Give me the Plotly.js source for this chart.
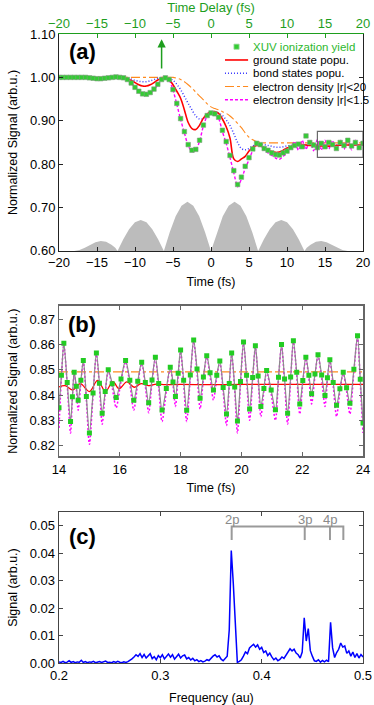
<!DOCTYPE html>
<html>
<head>
<meta charset="utf-8">
<script src="https://cdn.plot.ly/plotly-3.0.1.min.js"></script>
<style>
  html, body { margin: 0; padding: 0; background: #fff; }
  #chart { width: 374px; height: 705px; }
</style>
</head>
<body>
<div id="chart"></div>
<script>
var FONT = 'Liberation Sans, Arial, sans-serif';
var GREEN = '#1e9e1e';

// ---------- panel (a): whole pulse, -20 .. 20 fs, one sample every 0.5 fs ----------
var aT = [];
for (var i = 0; i <= 80; i++) { aT.push(-20 + 0.5 * i); }
var aTicks = [-20, -15, -10, -5, 0, 5, 10, 15, 20];

// XUV ionization yield (green squares)
var aYield = [1.000,1.000,1.000,1.000,1.000,1.000,1.000,1.000,
	.999,.998,.997,.997,.998,.999,1.000,1.001,1.000,
	.999,.995,.987,.977,.968,.962,.961,.965,.973,.984,.995,.999,
	.995,.972,.940,.905,.875,.845,.832,.834,.855,.890,.912,.918,
	.916,.908,.878,.852,.820,.785,.753,.770,.795,.815,.835,.848,
	.845,.836,.832,.826,.822,.821,.826,.830,.838,.843,.846,.840,
	.865,.850,.844,.838,.848,.840,.850,.845,.836,.850,.843,.855,
	.842,.850,.838,.848];

// ground state popu.
var aGround = [1.000,1.000,1.000,1.000,1.000,1.000,1.000,1.000,1.000,
	.9995,.999,.999,.9995,1.000,1.000,1.000,1.000,
	.999,.997,.993,.988,.983,.980,.980,.983,.988,.994,.998,.999,
	.995,.983,.968,.952,.925,.896,.882,.880,.890,.906,.916,.920,
	.921,.917,.904,.886,.860,.812,.806,.812,.818,.830,.839,.843,
	.842,.838,.833,.829,.827,.828,.832,.837,.840,.843,.845,.845,
	.844,.843,.844,.843,.842,.8414,.8414,.8425,.8431,.8438,.8441,
	.8442,.8442,.8441,.8442,.8442];

// bond states popu.
var aBond = [1.000,1.000,1.000,1.000,1.000,1.000,1.000,1.000,1.000,
	.9995,.999,.999,.9995,1.000,1.000,1.000,
	1.000,.9995,.998,.996,.993,.991,.990,.990,.992,.995,.998,1.000,1.000,
	.998,.993,.984,.972,.956,.940,.925,.911,.904,.905,.912,.918,
	.920,.918,.912,.902,.889,.870,.850,.836,.833,.836,.842,.845,
	.846,.845,.843,.841,.839,.839,.840,.842,.843,.844,
	.8442,.8445,.8442,.8440,.8443,.8442,.8441,.8443,.8442,.8442,.8441,.8442,
	.8443,.8442,.8442,.8441,.8442,.8442];

// electron density |r|<20
var aDens20 = [1,1,1,1,1,1,1,1,1,1,1,1,1,1,1,1,1,1,1,1,1,1,1,1,1,1,1,1,1,1,1,
	.998,.995,.990,.983,.975,.966,.957,.948,.939,.932,.928,.925,.921,.917,.911,
	.903,.894,.884,.872,.862,.856,.852,.850,.849,
	.849,.849,.849,.849,.849,.849,.849,.849,.849,.849,.849,.849,.849,
	.849,.849,.849,.849,.849,.849,.849,.849,.849,.849,.849,.849,.849];

// electron density |r|<1.5
var aDens15 = [1.000,1.000,1.000,1.000,1.000,1.000,1.000,1.000,
	.999,.998,.997,.997,.998,.999,1.000,1.000,1.000,
	.999,.995,.987,.977,.967,.961,.960,.964,.972,.983,.995,.999,
	.994,.971,.938,.903,.872,.842,.829,.832,.853,.888,.911,.917,
	.915,.906,.875,.848,.815,.780,.748,.765,.790,.810,.832,.846,
	.842,.832,.826,.820,.814,.811,.818,.826,.836,.852,.832,.855,
	.834,.856,.831,.857,.832,.855,.835,.854,.833,.856,.834,.858,
	.833,.855,.832,.857];

// XUV pulse (grey humps)
var pulseT = [-18,-17.3,-16.6,-15.9,-15.2,-14.5,-13.8,-13.1,-12.6,-12.3,
	-11.54,-10.78,-10.01,-9.25,-8.49,-7.73,-6.96,-6.2,
	-5.43,-4.65,-3.88,-3.1,-2.33,-1.55,-0.78,0,
	0.78,1.55,2.33,3.1,3.88,4.65,5.43,6.2,
	6.96,7.73,8.49,9.25,10.01,10.78,11.54,12.3,
	12.6,13.1,13.8,14.5,15.2,15.9,16.6,17.3,18];
var pulseV = [.600,.602,.607,.614,.620,.623,.621,.614,.607,.600,
	.627,.650,.666,.671,.666,.650,.627,.600,
	.643,.680,.704,.713,.704,.680,.643,.600,
	.643,.680,.704,.713,.704,.680,.643,.600,
	.627,.650,.666,.671,.666,.650,.627,.600,
	.607,.614,.621,.623,.620,.614,.607,.602,.600];

var arrowT = -6.5;     // green arrow in (a)

// ---------- panel (b): zoom 14 .. 24 fs ----------
var bRange = [14, 24];
var bYRange = [0.8157, 0.8753];
var bT = [14.00,14.08,14.16,14.27,14.38,14.44,14.50,14.57,14.63,14.72,14.80,14.90,
	15.00,15.12,15.23,15.33,15.42,15.52,15.62,15.75,15.88,16.04,16.19,16.33,
	16.46,16.59,16.72,16.84,16.95,17.06,17.17,17.28,17.39,17.53,17.66,17.75,
	17.83,17.92,18.00,18.10,18.20,18.32,18.43,18.54,18.64,18.75,18.86,18.97,
	19.08,19.19,19.29,19.40,19.51,19.60,19.68,19.78,19.87,19.97,20.07,20.17,
	20.27,20.37,20.46,20.55,20.64,20.74,20.83,20.98,21.12,21.22,21.32,21.42,
	21.52,21.62,21.71,21.82,21.92,22.02,22.12,22.22,22.31,22.42,22.52,22.64,
	22.75,22.83,22.91,23.02,23.13,23.24,23.35,23.46,23.57,23.70,23.82,23.91,24.00];
var bYield = [.8350,.8478,.8605,.8450,.8295,.8393,.8490,.8435,.8380,.8459,.8537,.8394,
	.8250,.8408,.8566,.8447,.8328,.8414,.8500,.8445,.8390,.8464,.8537,.8459,
	.8380,.8455,.8530,.8450,.8370,.8460,.8550,.8446,.8341,.8426,.8510,.8452,
	.8394,.8486,.8578,.8459,.8340,.8479,.8618,.8503,.8387,.8472,.8556,.8488,
	.8420,.8478,.8535,.8430,.8325,.8446,.8566,.8432,.8297,.8454,.8610,.8478,
	.8345,.8470,.8595,.8475,.8355,.8426,.8497,.8420,.8342,.8471,.8600,.8464,
	.8328,.8472,.8615,.8490,.8365,.8458,.8550,.8478,.8405,.8483,.8560,.8479,
	.8398,.8469,.8540,.8450,.8360,.8425,.8490,.8429,.8368,.8502,.8635,.8463,.8290];
var bDens15 = [.8270,.8470,.8600,.8440,.8250,.8385,.8485,.8425,.8340,.8450,.8532,.8380,
	.8205,.8400,.8560,.8435,.8285,.8405,.8495,.8430,.8350,.8455,.8532,.8445,
	.8340,.8445,.8525,.8435,.8330,.8450,.8545,.8430,.8295,.8415,.8505,.8440,
	.8355,.8478,.8572,.8445,.8295,.8470,.8612,.8490,.8345,.8462,.8550,.8475,
	.8380,.8470,.8530,.8415,.8280,.8435,.8560,.8418,.8250,.8445,.8604,.8465,
	.8300,.8460,.8590,.8462,.8315,.8415,.8492,.8405,.8300,.8460,.8595,.8450,
	.8285,.8460,.8610,.8478,.8325,.8448,.8545,.8465,.8365,.8475,.8555,.8465,
	.8355,.8460,.8535,.8435,.8315,.8415,.8485,.8415,.8325,.8492,.8630,.8448,.8250];
var bGroundT = [14.0,14.2,14.45,14.7,15.0,15.27,15.53,15.77,15.98,16.23,16.47,16.7,
	16.95,17.2,17.5,18,19,20,21,22,23,24];
var bGround = [.8432,.8437,.8420,.8445,.8414,.8458,.8414,.8453,.8425,.8452,.8431,.8445,
	.8437,.8443,.8441,.8442,.8441,.8442,.8442,.8442,.8442,.8442];
var bDens20T = [14, 24];
var bDens20 = [.8492, .8492];

// ---------- panel (c): spectrum, 0.2 .. 0.5 au every 0.002 au ----------
var cFreq = [];
for (var j = 0; j <= 150; j++) { cFreq.push(+(0.2 + 0.002 * j).toFixed(3)); }
var cSignal = [
	.0004,.0002,.0006,.0001,.0003,.0008,.0002,.0005,.0001,.0004,.0003,.0010,
	.0002,.0005,.0001,.0004,.0003,.0006,.0001,.0003,.0005,.0002,.0004,.0007,
	.0002,.0003,.0001,.0005,.0002,.0006,.0003,.0001,.0004,.0002,.0005,.0009,
	.0015,.0022,.0030,.0024,.0034,.0020,.0031,.0018,.0026,.0034,.0016,.0023,
	.0012,.0027,.0019,.0030,.0015,.0025,.0033,.0021,.0030,.0014,.0024,.0032,
	.0018,.0026,.0029,.0015,.0020,.0011,.0017,.0008,.0012,.0005,.0009,
	.0004,.0007,.0012,.0009,.0018,.0025,.0030,.0022,.0026,.0014,.0008,.0016,
	.0025,.0120,.0410,.0290,.0120,.0002,
	.0006,.0012,.0025,.0040,.0034,.0055,.0062,.0068,.0058,.0066,.0050,.0057,
	.0038,.0044,.0027,.0036,.0022,.0012,.0018,
	.0008,.0013,.0022,.0017,.0030,.0038,.0052,.0044,.0050,.0036,.0030,.0018,
	.0040,.0165,.0080,.0125,.0045,.0025,.0008,
	.0006,.0012,.0003,.0009,.0004,.0010,
	.0005,.0148,.0055,.0020,
	.0038,.0050,.0073,.0058,.0062,.0035,.0044,.0025,.0040,.0020,.0034,.0018,.0031,.0022];

// 2p / 3p / 4p bracket
var levelFreq = [0.3704, 0.4425, 0.4674, 0.4806];
var levelName = ['2p', '3p', '4p', ''];
var bracketTop = 0.0497, bracketFoot = 0.0448, levelLabelY = 0.0524;

// legend of (a)
var legNames = ['XUV ionization yield', 'ground state popu.', 'bond states popu.',
	'electron density |r|<20', 'electron density |r|<1.5'];

var COL = { ground: '#ff0000', bond: '#3b3bff', d20: '#ff8a1e', d15: '#ff00ff', yield: '#33cc33' };

// ---------- traces ----------
var data = [];

data.push({ x: pulseT, y: pulseV, xaxis: 'x', yaxis: 'y', mode: 'lines', fill: 'tozeroy',
	fillcolor: '#bcbcbc', line: { width: 0 }, hoverinfo: 'skip' });
data.push({ x: aT, y: aDens20, xaxis: 'x', yaxis: 'y', mode: 'lines',
	line: { color: COL.d20, width: 1.1, dash: 'dashdot', shape: 'spline' } });
data.push({ x: aT, y: aBond, xaxis: 'x', yaxis: 'y', mode: 'lines',
	line: { color: COL.bond, width: 1.5, dash: '1px,2px', shape: 'spline' } });
data.push({ x: aT, y: aDens15, xaxis: 'x', yaxis: 'y', mode: 'lines',
	line: { color: COL.d15, width: 1.4, dash: '3px,2px', shape: 'spline', smoothing: 0.6 } });
data.push({ x: aT, y: aGround, xaxis: 'x', yaxis: 'y', mode: 'lines',
	line: { color: COL.ground, width: 1.6, shape: 'spline' } });
data.push({ x: aT, y: aYield, xaxis: 'x', yaxis: 'y', mode: 'markers',
	marker: { symbol: 'square', size: 4.5, color: COL.yield, line: { color: '#7f9f7f', width: 0.6 } } });
// carrier for the green top axis
data.push({ x: aT, y: aDens20, xaxis: 'x4', yaxis: 'y', mode: 'none', hoverinfo: 'skip' });

// panel (b)
data.push({ x: bDens20T, y: bDens20, xaxis: 'x2', yaxis: 'y2', mode: 'lines',
	line: { color: COL.d20, width: 1.3, dash: 'dashdot' } });
data.push({ x: bT, y: bDens15, xaxis: 'x2', yaxis: 'y2', mode: 'lines',
	line: { color: COL.d15, width: 1.5, dash: '2px,2px', shape: 'spline', smoothing: 0.8 } });
data.push({ x: bGroundT, y: bGround, xaxis: 'x2', yaxis: 'y2', mode: 'lines',
	line: { color: COL.ground, width: 1.3, shape: 'spline' } });
data.push({ x: bT, y: bYield, xaxis: 'x2', yaxis: 'y2', mode: 'lines+markers',
	line: { color: '#8c8c8c', width: 1.2, shape: 'spline', smoothing: 0.8 },
	marker: { symbol: 'square', size: 5, color: '#22cc22', line: { width: 0 } } });

// panel (c)
data.push({ x: cFreq, y: cSignal, xaxis: 'x3', yaxis: 'y3', mode: 'lines',
	line: { color: '#0000ff', width: 1.5 } });
var brX = [levelFreq[0], levelFreq[0], levelFreq[3], levelFreq[3], null,
	levelFreq[1], levelFreq[1], null, levelFreq[2], levelFreq[2]];
var brY = [bracketFoot, bracketTop, bracketTop, bracketFoot, null,
	bracketFoot, bracketTop, null, bracketFoot, bracketTop];
data.push({ x: brX, y: brY, xaxis: 'x3', yaxis: 'y3', mode: 'lines',
	line: { color: '#9a9a9a', width: 2 }, connectgaps: false });

// ---------- axes ----------
function axis(o, lineCol, lineW) {
	var a = {
		showgrid: false, zeroline: false, showline: true, linecolor: lineCol, linewidth: lineW,
		ticks: 'inside', ticklen: 4, tickwidth: 1, tickcolor: lineCol, mirror: 'ticks',
		tickfont: { family: FONT, size: 13, color: '#000' }
	};
	for (var k in o) { a[k] = o[k]; }
	return a;
}
function ttl(t, s) { return { text: t, standoff: s, font: { family: FONT, size: 12.5, color: '#000' } }; }

var layout = {
	width: 374, height: 705,
	margin: { l: 59, r: 11, t: 34, b: 42 },
	paper_bgcolor: '#fff', plot_bgcolor: '#fff',
	showlegend: false,
	font: { family: FONT, size: 13, color: '#000' },

	xaxis: axis({ domain: [0, 1], anchor: 'y', range: [-20, 20], tickvals: aTicks, mirror: false,
		title: ttl('Time (fs)', 7) }, '#222', 1),
	yaxis: axis({ domain: [0.6552, 1], anchor: 'x', range: [0.6, 1.1], dtick: 0.1, tickformat: '.2f',
		title: ttl('Normalized Signal (arb.u.)', 9) }, '#222', 1),
	xaxis4: { overlaying: 'x', anchor: 'y', side: 'top', range: [-20, 20], tickvals: aTicks,
		showgrid: false, zeroline: false, showline: true, linecolor: GREEN, linewidth: 1.3,
		ticks: 'inside', ticklen: 4, tickcolor: GREEN,
		tickfont: { family: FONT, size: 13, color: GREEN },
		title: { text: 'Time Delay (fs)', font: { family: FONT, size: 13, color: GREEN }, standoff: 2 } },

	xaxis2: axis({ domain: [0, 1], anchor: 'y2', range: bRange, dtick: 2,
		title: ttl('Time (fs)', 7) }, '#666', 1.5),
	yaxis2: axis({ domain: [0.3283, 0.5678], anchor: 'x2', range: bYRange, dtick: 0.01, tickformat: '.2f',
		title: ttl('Normalized Signal (arb.u.)', 9) }, '#666', 1.5),

	xaxis3: axis({ domain: [0, 1], anchor: 'y3', range: [0.2, 0.5], dtick: 0.1, tickformat: '.1f' }, '#444', 1.3),
	yaxis3: axis({ domain: [0, 0.24], anchor: 'x3', range: [0, 0.055], dtick: 0.01, tickformat: '.2f',
		title: ttl('Signal (arb.u.)', 9) }, '#444', 1.3),

	shapes: [],
	annotations: []
};

// x title of (c) sits low in the bottom margin
layout.annotations.push({ xref: 'paper', yref: 'paper', x: 0.5, y: -0.055, text: 'Frequency (au)',
	showarrow: false, xanchor: 'center', yanchor: 'middle',
	font: { family: FONT, size: 12.5, color: '#000' } });

// box in (a) marking the range of (b)
layout.shapes.push({ type: 'rect', xref: 'x', yref: 'y', x0: bRange[0], x1: 20,
	y0: bYRange[0], y1: bYRange[1], line: { color: '#6a6a6a', width: 1.2 } });

// arrow in (a)
layout.annotations.push({ xref: 'x', yref: 'y', axref: 'x', ayref: 'y', x: arrowT, y: 1.088,
	ax: arrowT, ay: 1.017, text: '', showarrow: true, arrowhead: 2, arrowsize: 1.1,
	arrowwidth: 1.5, arrowcolor: GREEN });

// panel letters
[['(a)', 0.9714], ['(b)', 0.5376], ['(c)', 0.2012]].forEach(function (p) {
	layout.annotations.push({ xref: 'paper', yref: 'paper', x: 0.076, y: p[1], text: '<b>' + p[0] + '</b>',
		showarrow: false, xanchor: 'center', yanchor: 'middle', font: { family: FONT, size: 22, color: '#000' } });
});

// hand-made legend for (a)
var legTop = 0.9798, legStep = 0.0211, symX0 = 0.546, symX1 = 0.622, txtX = 0.632;
var legStyle = [null,
	{ color: COL.ground, width: 1.6, dash: 'solid' },
	{ color: COL.bond, width: 1.5, dash: '1px,2px' },
	{ color: COL.d20, width: 1.1, dash: 'dashdot' },
	{ color: COL.d15, width: 1.4, dash: '3px,2px' }];
legNames.forEach(function (name, n) {
	var yy = legTop - n * legStep;
	layout.annotations.push({ xref: 'paper', yref: 'paper', x: txtX, y: yy, text: name, showarrow: false,
		xanchor: 'left', yanchor: 'middle',
		font: { family: FONT, size: 11.5, color: n === 0 ? '#2db82d' : '#000' } });
	if (n === 0) {
		layout.shapes.push({ type: 'rect', xref: 'paper', yref: 'paper',
			x0: 0.584 - 0.0085, x1: 0.584 + 0.0085, y0: yy - 0.0041, y1: yy + 0.0041,
			fillcolor: COL.yield, line: { color: '#9fd89f', width: 0.8 } });
	} else {
		layout.shapes.push({ type: 'line', xref: 'paper', yref: 'paper', x0: symX0, x1: symX1,
			y0: yy, y1: yy, line: legStyle[n] });
	}
});

// level labels in (c)
levelName.forEach(function (t, n) {
	if (!t) return;
	layout.annotations.push({ xref: 'x3', yref: 'y3', x: levelFreq[n], y: levelLabelY, text: t,
		showarrow: false, xanchor: 'center', yanchor: 'middle',
		font: { family: FONT, size: 13, color: '#8a8a8a' } });
});

Plotly.newPlot('chart', data, layout, { displayModeBar: false, staticPlot: true });
</script>
</body>
</html>
